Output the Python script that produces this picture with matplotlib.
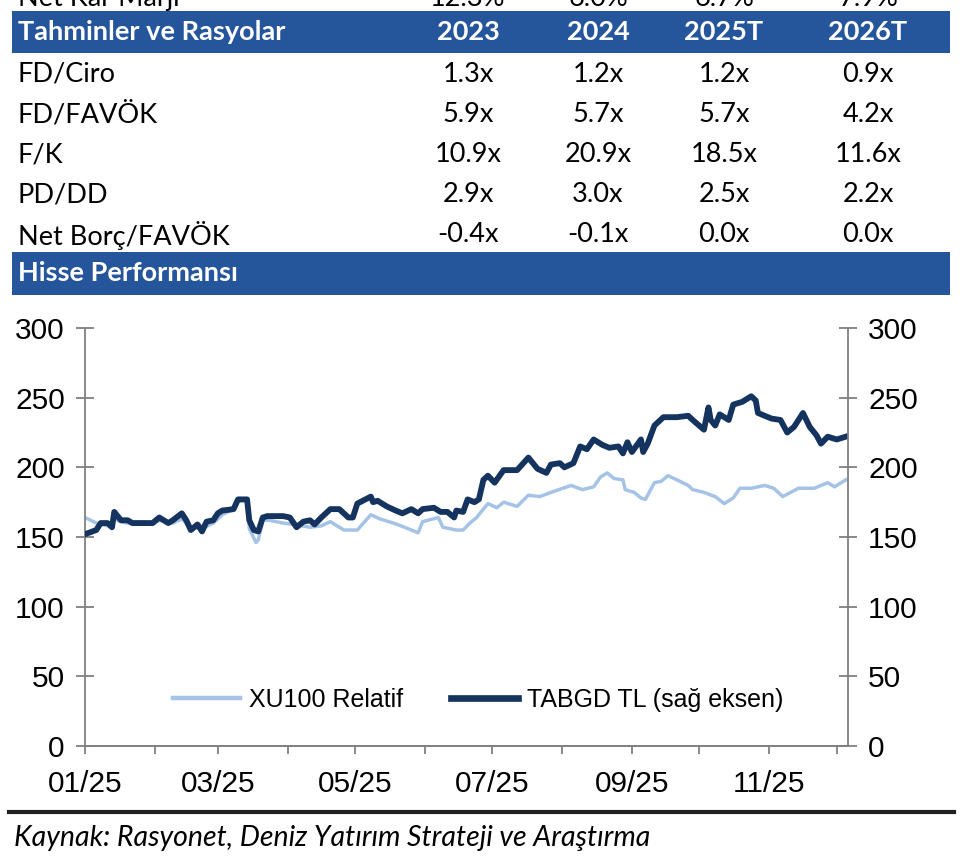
import matplotlib
matplotlib.use('Agg')
import matplotlib.pyplot as plt
import matplotlib.dates as mdates
from matplotlib.patches import Rectangle
from matplotlib.lines import Line2D
import pandas as pd

W, H = 960, 860

# table data
col_heads = ["2023", "2024", "2025T", "2026T"]
cut_row_label = "Net Kâr Marjı"
cut_row_vals = ["12.3%", "6.0%", "6.7%", "7.9%"]
row_labels = ["FD/Ciro", "FD/FAVÖK", "F/K", "PD/DD", "Net Borç/FAVÖK"]
row_vals = [
    ["1.3x", "1.2x", "1.2x", "0.9x"],
    ["5.9x", "5.7x", "5.7x", "4.2x"],
    ["10.9x", "20.9x", "18.5x", "11.6x"],
    ["2.9x", "3.0x", "2.5x", "2.2x"],
    ["-0.4x", "-0.1x", "0.0x", "0.0x"],
]

# price series, days since 2025-01-01
tab_days = [0, 5, 7, 10, 12, 13, 16, 19, 21, 25,
            30, 33, 37, 39, 43, 45, 47, 50, 52, 54,
            57, 59, 61, 66, 68, 72, 73, 75, 77, 79,
            81, 88, 91, 94, 97, 100, 102, 105, 109, 113,
            117, 119, 121, 127, 128, 130, 134, 138, 141, 145,
            148, 150, 155, 158, 161, 164, 165, 168, 170, 173,
            175, 177, 179, 182, 186, 192, 197, 201, 205, 207,
            211, 213, 217, 220, 223, 226, 230, 233, 237, 239,
            241, 243, 247, 248, 250, 253, 257, 263, 268, 270,
            275, 277, 278, 280, 282, 286, 288, 292, 296, 298,
            299, 302, 305, 309, 312, 315, 319, 322, 325, 327,
            330, 334, 338]
tab_vals = [152, 155, 160, 160, 157, 168, 162, 162, 160, 160,
            160, 164, 160, 162, 167, 162, 155, 159, 154, 161,
            162, 167, 169, 170, 177, 177, 162, 155, 154, 164,
            165, 165, 164, 157, 161, 162, 159, 164, 170, 170,
            164, 164, 174, 179, 175, 176, 172, 169, 167, 170,
            167, 170, 171, 168, 168, 164, 169, 168, 177, 175,
            177, 191, 194, 189, 198, 198, 207, 199, 196, 202,
            203, 200, 203, 215, 213, 220, 216, 214, 215, 210,
            218, 211, 220, 211, 217, 230, 236, 236, 237, 234,
            227, 243, 234, 230, 238, 234, 245, 247, 251, 248,
            239, 237, 235, 234, 225, 229, 239, 229, 223, 217,
            222, 220, 222]

rel_days = [0, 5, 10, 13, 16, 19, 25, 30, 33, 39,
            43, 47, 52, 57, 61, 66, 68, 72, 73, 76,
            77, 79, 82, 88, 93, 100, 105, 109, 115, 121,
            127, 131, 137, 142, 148, 150, 157, 159, 165, 168,
            171, 174, 179, 183, 186, 192, 197, 202, 207, 216,
            221, 226, 229, 232, 235, 239, 240, 244, 247, 249,
            253, 256, 259, 263, 268, 270, 275, 280, 284, 288,
            291, 296, 302, 306, 310, 317, 324, 330, 333, 338]
rel_vals = [164, 160, 158, 163, 161, 160, 161, 159, 162, 160,
            163, 157, 156, 160, 166, 170, 176, 176, 156, 146,
            148, 162, 162, 160, 159, 157, 158, 161, 155, 155,
            166, 163, 160, 157, 153, 161, 164, 157, 155, 155,
            160, 164, 174, 171, 175, 172, 180, 179, 182, 187,
            184, 186, 193, 196, 192, 191, 184, 182, 178, 177,
            189, 190, 194, 191, 187, 184, 182, 179, 174, 178,
            185, 185, 187, 185, 179, 185, 185, 189, 186, 191]

start = pd.Timestamp("2025-01-01")
tab_dates = start + pd.to_timedelta(tab_days, unit="D")
rel_dates = start + pd.to_timedelta(rel_days, unit="D")

BLUE = "#25559b"
DARK = "#14335f"
LIGHT = "#a5c3e6"
GRAY = "#808080"
TFONT = "Lato"
CFONT = "Liberation Sans"


def fy(y):
    return 1 - y / H


def fx(x):
    return x / W


fig = plt.figure(figsize=(W / 100, H / 100), dpi=100)

# blue bands
for y0, y1 in [(11, 53), (252, 295)]:
    fig.patches.append(Rectangle((fx(12), fy(y1)), fx(950) - fx(12), fy(y0) - fy(y1),
                                 transform=fig.transFigure, facecolor=BLUE, edgecolor="none"))

col_x = [468, 598, 724, 868]
tsize = 19.5

# cut-off row at the top
fig.text(fx(18), fy(6), cut_row_label, fontsize=tsize, family=TFONT, va="baseline")
for x, v in zip(col_x, cut_row_vals):
    fig.text(fx(x), fy(6), v, fontsize=tsize, family=TFONT, va="baseline", ha="center")

fig.text(fx(18), fy(32), "Tahminler ve Rasyolar", fontsize=tsize, family=TFONT,
         weight="bold", color="white", va="center")
for x, v in zip(col_x, col_heads):
    fig.text(fx(x), fy(32), v, fontsize=tsize, family=TFONT, weight="bold",
             color="white", va="center", ha="center")

row_y = [74, 115, 155, 195, 235]
for y, lab, vals in zip(row_y, row_labels, row_vals):
    fig.text(fx(18), fy(y), lab, fontsize=tsize, family=TFONT, va="center")
    for x, v in zip(col_x, vals):
        fig.text(fx(x), fy(y), v, fontsize=tsize, family=TFONT, va="center", ha="center")

fig.text(fx(18), fy(273), "Hisse Performansı", fontsize=tsize, family=TFONT,
         weight="bold", color="white", va="center")

# chart
ax = fig.add_axes([fx(85), fy(746), fx(848) - fx(85), fy(328) - fy(746)])
ax2 = ax.twinx()

ax.plot(rel_dates, rel_vals, color=LIGHT, linewidth=2.5, solid_joinstyle="round")
ax2.plot(tab_dates, tab_vals, color=DARK, linewidth=4.2, solid_joinstyle="round")

for a in (ax, ax2):
    a.set_ylim(0, 300)
    a.set_yticks(range(0, 301, 50))
    a.set_xlim(start, start + pd.Timedelta(days=339))
    a.spines["top"].set_visible(False)
    for s in ("left", "right", "bottom"):
        a.spines[s].set_color(GRAY)
        a.spines[s].set_linewidth(1.3)
    a.tick_params(axis="y", direction="inout", length=13, width=1.3, color=GRAY,
                  labelsize=21.5, pad=8)
    for lab in a.get_yticklabels():
        lab.set_family(CFONT)

ax.spines["right"].set_visible(False)
ax2.spines["left"].set_visible(False)

ax.xaxis.set_major_locator(mdates.MonthLocator())
ax.xaxis.set_major_formatter(
    plt.FuncFormatter(lambda v, p: mdates.num2date(v).strftime("%m/%y")
                      if mdates.num2date(v).month % 2 == 1 else ""))
ax.tick_params(axis="x", direction="out", length=6, width=1.3, color=GRAY,
               labelsize=21.5, pad=11)
for lab in ax.get_xticklabels():
    lab.set_family(CFONT)

handles = [Line2D([], [], color=LIGHT, linewidth=3.2),
           Line2D([], [], color=DARK, linewidth=4.8)]
ax2.legend(handles, ["XU100 Relatif", "TABGD TL (sağ eksen)"], loc="center",
           bbox_to_anchor=(0.515, 0.11), ncol=2, frameon=False,
           prop={"family": CFONT, "size": 18}, handlelength=2.7,
           handletextpad=0.35, columnspacing=1.9)

# footer
fig.add_artist(Line2D([fx(9), fx(954)], [fy(812), fy(812)], color="#222222", linewidth=3,
                      transform=fig.transFigure))
fig.text(fx(14), fy(838), "Kaynak: Rasyonet, Deniz Yatırım Strateji ve Araştırma",
         fontsize=20.5, family=TFONT, style="italic", va="center")

fig.savefig("out.png", dpi=100)
